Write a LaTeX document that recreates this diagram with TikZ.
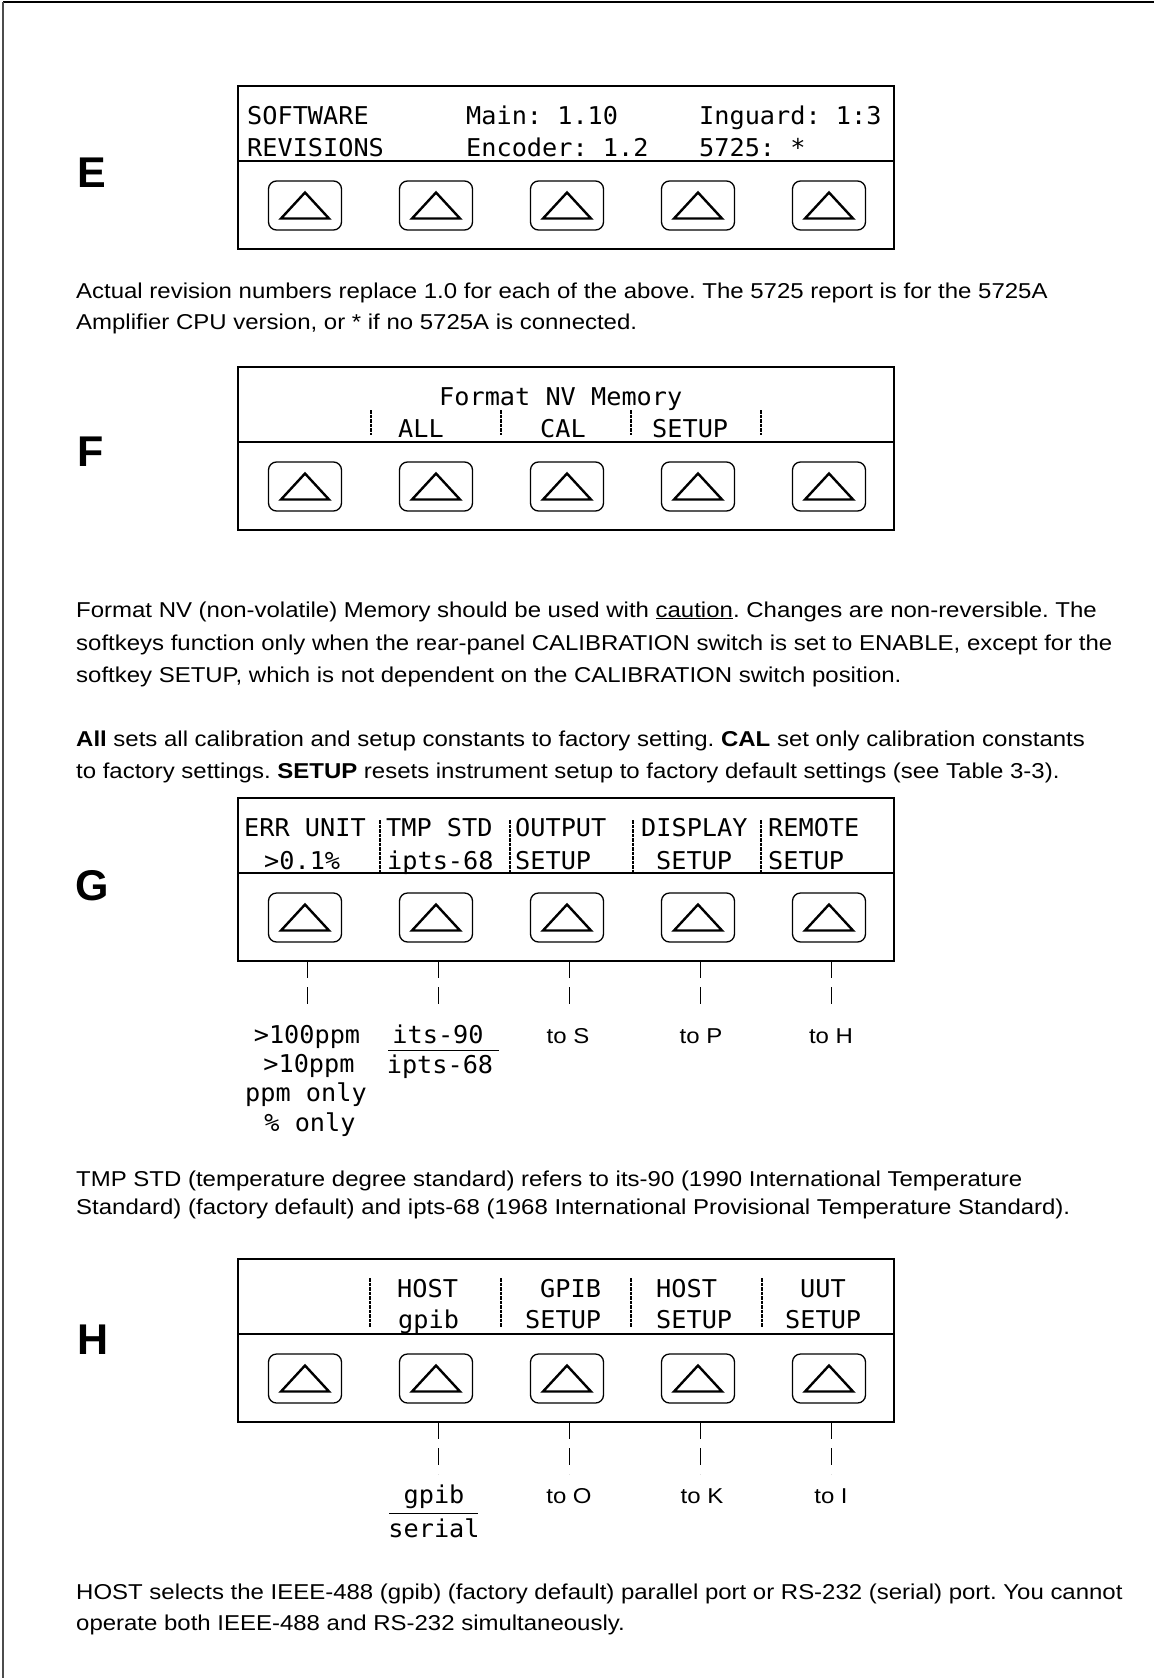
\documentclass[tikz,border=0pt]{standalone}
\usepackage{fontspec}
\setmainfont{Liberation Sans}[FakeStretch=1.115]
\newfontfamily\letfont{Liberation Sans}
\newfontfamily\lcdfont[FakeStretch=1.03]{DejaVu Sans Mono}
\usetikzlibrary{calc}
\frenchspacing

\tikzset{
  panelbox/.style={draw, line width=1.5pt, minimum width=656pt, minimum height=163pt, inner sep=0pt, outer sep=0pt, anchor=north west},
  btn/.style={draw, line width=1.3pt, rounded corners=8pt, minimum width=73pt, minimum height=49pt, inner sep=0pt},
  tri/.style={line width=2.4pt, line join=miter},
  lcd/.style={font=\lcdfont\fontsize{24.5}{24.5}\selectfont, inner sep=0pt, anchor=base west},
  lcdc/.style={lcd, anchor=base},
  body/.style={font=\fontsize{21.5}{25}\selectfont, inner sep=0pt, anchor=base west},
  tolabel/.style={font=\fontsize{21.5}{25}\selectfont, inner sep=0pt, anchor=base},
  biglet/.style={font=\letfont\fontsize{43}{43}\selectfont\bfseries, inner sep=0pt, anchor=base west},
  sepbar/.style={line width=2.4pt, dash pattern=on 3.5pt off 1pt},
  lead/.style={line width=1pt, dash pattern=on 17pt off 9pt},
  fracline/.style={line width=1pt},
}

\newcommand\softpanel[2]{%
  \node[panelbox] (#1box) at (238,#2) {};
  \draw[line width=1.5pt] ($(#1box.north west)+(0,75)$) coordinate (#1dl) -- ($(#1box.north east)+(0,75)$) coordinate (#1dr);
  \foreach \i/\x in {1/305,2/436,3/567,4/698,5/829} {
    \node[btn] (#1b\i) at (\x,#2+119.5) {};
    \draw[tri] ($(#1b\i)+(-24,13)$) -- ($(#1b\i)+(0,-13)$) -- ($(#1b\i)+(24,13)$) -- cycle;
  }%
}

\begin{document}
\begin{tikzpicture}[x=1pt,y=-1pt]
\useasboundingbox (0,0) rectangle (1154,1678);
% frame
\draw[line width=2pt] (3,2.5) -- (1154,2.5);
\draw[line width=1.2pt, black!70] (3,2.5) -- (3,1678);

% ---------------- E ----------------
\node[biglet] (letE) at (77,187) {E};
\softpanel{e}{86}
\node[lcd] (e11) at (247,124) {SOFTWARE};
\node[lcd] (e12) at (466,124) {Main: 1.10};
\node[lcd] (e13) at (699,124) {Inguard: 1:3};
\node[lcd] (e21) at (247,156) {REVISIONS};
\node[lcd] (e22) at (466,156) {Encoder: 1.2};
\node[lcd] (e23) at (699,156) {5725: *};

\node[body] (pe1) at (76,298) {Actual revision numbers replace 1.0 for each of the above. The 5725 report is for the 5725A};
\node[body] (pe2) at (76,329) {Amplifier CPU version, or * if no 5725A is connected.};

% ---------------- F ----------------
\node[biglet] (letF) at (77,466) {F};
\softpanel{f}{367}
\node[lcd] (f11) at (439,405) {Format NV Memory};
\node[lcd] (f21) at (398,437) {ALL};
\node[lcd] (f22) at (540,437) {CAL};
\node[lcd] (f23) at (652,437) {SETUP};
\foreach \x in {371,501,631,761} \draw[sepbar] (\x,410) -- (\x,435);

\node[body] (pf1) at (76,617) {Format NV (non-volatile) Memory should be used with \underline{caution}. Changes are non-reversible. The};
\node[body] (pf2) at (76,650) {softkeys function only when the rear-panel CALIBRATION switch is set to ENABLE, except for the};
\node[body] (pf3) at (76,682) {softkey SETUP, which is not dependent on the CALIBRATION switch position.};
\node[body] (pf4) at (76,746) {\textbf{All} sets all calibration and setup constants to factory setting. \textbf{CAL} set only calibration constants};
\node[body] (pf5) at (76,778) {to factory settings. \textbf{SETUP} resets instrument setup to factory default settings (see Table 3-3).};

% ---------------- G ----------------
\node[biglet] (letG) at (75,900) {G};
\softpanel{g}{798}
\node[lcd] (g11) at (244,836) {ERR UNIT};
\node[lcd] (g12) at (386,836) {TMP STD};
\node[lcd] (g13) at (515,836) {OUTPUT};
\node[lcd] (g14) at (641,836) {DISPLAY};
\node[lcd] (g15) at (768,836) {REMOTE};
\node[lcd] (g21) at (264,869) {>0.1\%};
\node[lcd] (g22) at (387,869) {ipts-68};
\node[lcd] (g23) at (515,869) {SETUP};
\node[lcd] (g24) at (656,869) {SETUP};
\node[lcd] (g25) at (768,869) {SETUP};
\foreach \x in {380,510,633,761} \draw[sepbar] (\x,820) -- (\x,872);

\foreach \i in {1,...,5} {
  \coordinate (gend\i) at ($(gb\i |- gbox.south)+(2,50)$);
  \draw[lead] ($(gb\i |- gbox.south)+(2,0)$) -- (gend\i);
}
\node[lcdc] (gl1a) at (307,1043) {>100ppm};
\node[lcdc] (gl1b) at (309,1072) {>10ppm};
\node[lcdc] (gl1c) at (306,1101) {ppm only};
\node[lcdc] (gl1d) at (310,1131) {\% only};
\node[lcdc] (gl2a) at (438,1043) {its-90};
\node[lcdc] (gl2b) at (440,1073) {ipts-68};
\draw[fracline] (388,1050) -- (499,1050);
\node[tolabel] (gl3) at (568,1043) {to S};
\node[tolabel] (gl4) at (701,1043) {to P};
\node[tolabel] (gl5) at (831,1043) {to H};

\node[body] (pg1) at (76,1186) {TMP STD (temperature degree standard) refers to its-90 (1990 International Temperature};
\node[body] (pg2) at (76,1214) {Standard) (factory default) and ipts-68 (1968 International Provisional Temperature Standard).};

% ---------------- H ----------------
\node[biglet] (letH) at (77,1354) {H};
\softpanel{h}{1259}
\node[lcd] (h11) at (397,1297) {HOST};
\node[lcd] (h12) at (540,1297) {GPIB};
\node[lcd] (h13) at (656,1297) {HOST};
\node[lcd] (h14) at (800,1297) {UUT};
\node[lcd] (h21) at (398,1328) {gpib};
\node[lcd] (h22) at (525,1328) {SETUP};
\node[lcd] (h23) at (656,1328) {SETUP};
\node[lcd] (h24) at (785,1328) {SETUP};
\foreach \x in {370,501,631,762} \draw[sepbar] (\x,1278) -- (\x,1327);

\foreach \i in {2,...,5} {
  \coordinate (hend\i) at ($(hb\i |- hbox.south)+(2,52)$);
  \draw[lead] ($(hb\i |- hbox.south)+(2,0)$) -- (hend\i);
}
\node[lcdc] (hl2a) at (434,1503) {gpib};
\node[lcdc] (hl2b) at (434,1537) {serial};
\draw[fracline] (389,1513) -- (478,1513);
\node[tolabel] (hl3) at (569,1503) {to O};
\node[tolabel] (hl4) at (702,1503) {to K};
\node[tolabel] (hl5) at (831,1503) {to I};

\node[body] (ph1) at (76,1599) {HOST selects the IEEE-488 (gpib) (factory default) parallel port or RS-232 (serial) port. You cannot};
\node[body] (ph2) at (76,1630) {operate both IEEE-488 and RS-232 simultaneously.};
\end{tikzpicture}
\end{document}
